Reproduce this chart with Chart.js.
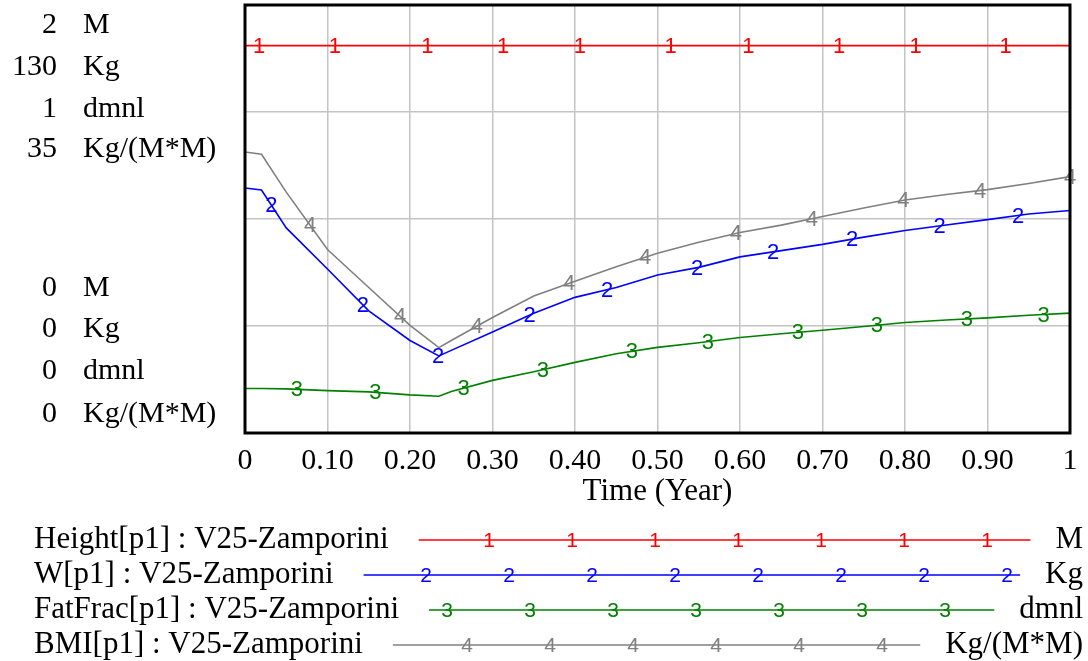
<!DOCTYPE html>
<html>
<head>
<meta charset="utf-8">
<script src="https://cdn.jsdelivr.net/npm/chart.js@4.4.0/dist/chart.umd.min.js"></script>
<style>
  html, body { margin: 0; padding: 0; background: #fff; }
  canvas { display: block; }
</style>
</head>
<body>
<canvas id="c" width="1088" height="661"></canvas>
<script>
// time axis (Year) and the four simulated series
const times   = [0, 0.02, 0.05, 0.1, 0.15, 0.2, 0.235, 0.25, 0.3, 0.35, 0.4, 0.45, 0.5, 0.55, 0.6, 0.65, 0.7, 0.75, 0.8, 0.85, 0.9, 0.95, 1];
const height  = [1.81, 1.81, 1.81, 1.81, 1.81, 1.81, 1.81, 1.81, 1.81, 1.81, 1.81, 1.81, 1.81, 1.81, 1.81, 1.81, 1.81, 1.81, 1.81, 1.81, 1.81, 1.81, 1.81];
const weight  = [74.4, 73.8, 62.3, 49.8, 37.1, 28.1, 23.4, 25.1, 30.7, 36.4, 41.2, 44.2, 48.0, 50.3, 53.5, 55.4, 57.3, 59.5, 61.5, 63.2, 64.8, 66.5, 67.6];
const fatFrac = [0.104, 0.104, 0.103, 0.099, 0.096, 0.089, 0.086, 0.097, 0.123, 0.143, 0.165, 0.185, 0.200, 0.211, 0.223, 0.232, 0.240, 0.249, 0.258, 0.264, 0.269, 0.275, 0.280];
const bmi     = [22.98, 22.8, 19.7, 15.0, 11.9, 8.8, 6.98, 7.56, 9.44, 11.2, 12.4, 13.6, 14.7, 15.6, 16.4, 17.0, 17.7, 18.4, 19.05, 19.5, 19.9, 20.4, 20.97];

const names   = ['Height[p1] : V25-Zamporini', 'W[p1] : V25-Zamporini', 'FatFrac[p1] : V25-Zamporini', 'BMI[p1] : V25-Zamporini'];
const units   = ['M', 'Kg', 'dmnl', 'Kg/(M*M)'];
const axisMin = [0, 0, 0, 0];
const axisMax = [2, 130, 1, 35];
const colors  = ['#ff0000', '#0000ff', '#008000', '#808080'];

// where the series number tags sit along each line (Year)
const markerTimes = [
    [0.017, 0.109, 0.221, 0.313, 0.406, 0.516, 0.610, 0.720, 0.813, 0.922],
    [0.032, 0.143, 0.234, 0.345, 0.439, 0.548, 0.640, 0.736, 0.842, 0.937],
    [0.063, 0.158, 0.265, 0.361, 0.469, 0.561, 0.670, 0.766, 0.875, 0.968],
    [0.079, 0.188, 0.281, 0.393, 0.485, 0.595, 0.687, 0.798, 0.891, 1.0]
];

const series = [height, weight, fatFrac, bmi];
const axisIds = ['y', 'yW', 'yF', 'yB'];
const serif = '"Liberation Serif", "Times New Roman", serif';
const sans = '"Liberation Sans", Arial, sans-serif';

const valueAt = (vals, t) => {
    for (let i = 1; i < times.length; i++) {
        if (t <= times[i]) {
            const f = (t - times[i - 1]) / (times[i] - times[i - 1]);
            return vals[i - 1] + f * (vals[i] - vals[i - 1]);
        }
    }
    return vals[vals.length - 1];
};

const tagPlugin = {
    id: 'tags',
    afterDatasetsDraw(chart) {
        const ctx = chart.ctx, xs = chart.scales.x;
        ctx.save();
        ctx.font = '22px ' + sans;
        ctx.textAlign = 'center';
        ctx.textBaseline = 'middle';
        series.forEach((vals, i) => {
            const ys = chart.scales[axisIds[i]];
            ctx.fillStyle = colors[i];
            markerTimes[i].forEach(t => {
                ctx.fillText(String(i + 1), xs.getPixelForValue(t), ys.getPixelForValue(valueAt(vals, t)) + 1);
            });
        });
        // frame
        const a = chart.chartArea;
        ctx.strokeStyle = '#000';
        ctx.lineWidth = 3;
        ctx.strokeRect(a.left, a.top, a.right - a.left, a.bottom - a.top);
        ctx.restore();
    },
    afterDraw(chart) {
        const ctx = chart.ctx;
        ctx.save();
        ctx.fillStyle = '#000';
        ctx.font = '30px ' + serif;
        ctx.textBaseline = 'alphabetic';
        // axis range labels on the left
        const topBase = [33, 75, 117, 157], botBase = [296, 337, 379, 422];
        units.forEach((u, i) => {
            ctx.textAlign = 'right';
            ctx.fillText(String(axisMax[i]), 57, topBase[i]);
            ctx.fillText(String(axisMin[i]), 57, botBase[i]);
            ctx.textAlign = 'left';
            ctx.fillText(u, 83, topBase[i]);
            ctx.fillText(u, 83, botBase[i]);
        });
        // legend
        const legBase = [548, 583, 618, 653];
        const phase = [489, 426, 447, 467];
        names.forEach((n, i) => {
            ctx.font = '31px ' + serif;
            ctx.fillStyle = '#000';
            ctx.textAlign = 'left';
            ctx.fillText(n, 34, legBase[i]);
            ctx.textAlign = 'right';
            ctx.fillText(units[i], 1083, legBase[i]);
            const x0 = 34 + ctx.measureText(n).width + 30;
            const x1 = 1083 - ctx.measureText(units[i]).width - 25;
            const ly = legBase[i] - 8;
            ctx.strokeStyle = colors[i];
            ctx.lineWidth = 1.6;
            ctx.beginPath();
            ctx.moveTo(x0, ly);
            ctx.lineTo(x1, ly);
            ctx.stroke();
            ctx.font = '21px ' + sans;
            ctx.fillStyle = colors[i];
            ctx.textAlign = 'center';
            ctx.textBaseline = 'middle';
            for (let x = phase[i]; x <= x1; x += 83) {
                if (x >= x0) ctx.fillText(String(i + 1), x, ly + 1);
            }
            ctx.textBaseline = 'alphabetic';
        });
        ctx.restore();
    }
};

const yAxes = {};
axisIds.forEach((id, i) => {
    yAxes[id] = { type: 'linear', min: axisMin[i], max: axisMax[i], display: false };
});
yAxes.y = {
    type: 'linear', min: axisMin[0], max: axisMax[0], display: true,
    ticks: { display: false, stepSize: 0.5 },
    grid: { color: '#c4c4c4', lineWidth: 1.5, drawTicks: false },
    border: { display: false }
};

new Chart(document.getElementById('c'), {
    type: 'line',
    data: {
        datasets: series.map((vals, i) => ({
            label: names[i],
            data: times.map((t, k) => ({ x: t, y: vals[k] })),
            yAxisID: axisIds[i],
            borderColor: colors[i],
            borderWidth: 1.6,
            pointRadius: 0,
            tension: 0
        }))
    },
    options: {
        responsive: false,
        animation: false,
        layout: { padding: { left: 245, right: 18, top: 5, bottom: 151 } },
        plugins: { legend: { display: false }, tooltip: { enabled: false } },
        scales: {
            x: {
                type: 'linear', min: 0, max: 1,
                ticks: {
                    stepSize: 0.1, padding: 10, color: '#000',
                    font: { family: serif, size: 30 },
                    callback: v => (v === 0 || v === 1) ? String(v) : v.toFixed(2)
                },
                grid: { color: '#c4c4c4', lineWidth: 1.5, drawTicks: false },
                border: { display: false },
                title: { display: true, text: 'Time (Year)', color: '#000', font: { family: serif, size: 31 }, padding: 0 },
                afterFit: s => { s.height = 77; }
            },
            ...yAxes
        }
    },
    plugins: [tagPlugin]
});
</script>
</body>
</html>
